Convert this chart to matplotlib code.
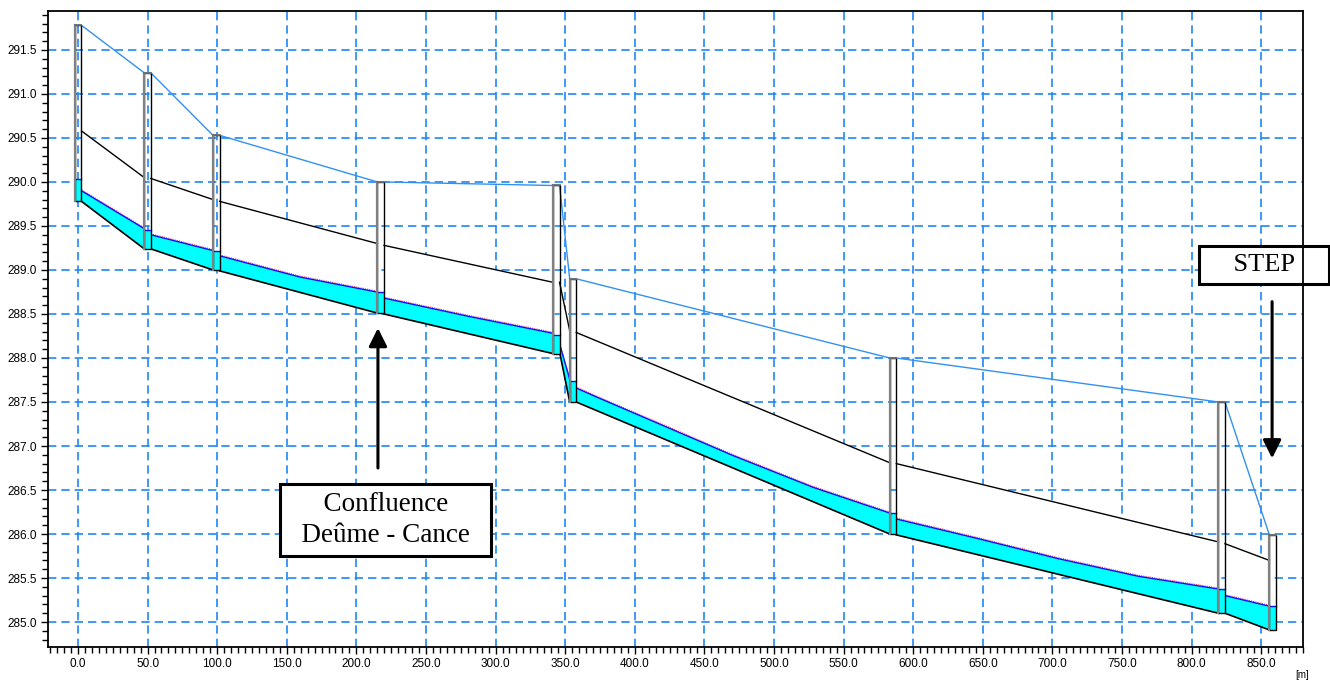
import matplotlib
matplotlib.use("Agg")
import matplotlib.pyplot as plt
import matplotlib.transforms as mtransforms
from matplotlib.patches import Rectangle
from matplotlib.ticker import MultipleLocator, FormatStrFormatter
import numpy as np

# --- manholes (chainage m, ground/top, bottom, water level) ---
mh_x      = [0.2, 50.0, 99.4, 217.5, 343.6, 355.6, 585.5, 821.6, 858.2]
mh_top    = [291.78, 291.24, 290.53, 290.00, 289.96, 288.90, 288.00, 287.50, 285.99]
mh_bottom = [289.78, 289.24, 289.00, 288.51, 288.05, 287.50, 286.00, 285.10, 284.91]
mh_water  = [290.03, 289.46, 289.22, 288.75, 288.26, 287.74, 286.24, 285.37, 285.18]
mh_half_w = 2.35

# --- pipes between manholes (upstream / downstream) ---
invert_up   = [289.78, 289.24, 288.99, 288.50, 288.07, 287.50, 285.99, 285.10]
invert_down = [289.24, 289.00, 288.51, 288.05, 287.50, 286.00, 285.10, 284.91]
crown_up    = [290.58, 290.04, 289.78, 289.28, 288.86, 288.29, 286.80, 285.89]
crown_down  = [290.05, 289.80, 289.30, 288.86, 288.31, 286.81, 285.91, 285.70]

# --- water profile in each pipe ---
water_ch = [
    [2.6, 47.6],
    [52.4, 97.2],
    [102.0, 159.5, 214.6],
    [220.0, 281.6, 341.5],
    [345.8, 353.4],
    [357.8, 375.0, 470.8, 528.2, 582.8],
    [588.1, 646.0, 704.2, 761.7, 819.2],
    [824.0, 855.8],
]
water_lvl = [
    [289.90, 289.47],
    [289.40, 289.22],
    [289.16, 288.92, 288.75],
    [288.68, 288.47, 288.28],
    [288.17, 287.75],
    [287.66, 287.54, 286.89, 286.53, 286.24],
    [286.17, 285.95, 285.72, 285.52, 285.375],
    [285.30, 285.18],
]

x_ticks = np.arange(0, 851, 50)

GRID = "#1E88F5"
GROUND = "#3391f0"
CYAN = "#00FFFF"

fig = plt.figure(figsize=(13.3, 6.82), dpi=100)
ax = fig.add_axes([0.0361, 0.0513, 0.9436, 0.9326])
ax.set_xlim(-21.5, 880)
ax.set_ylim(284.716, 291.943)

# grid below everything
ax.set_axisbelow(True)
ax.grid(True, which="major", color=GRID, linestyle=(0, (5, 3)), linewidth=1.2, zorder=0)

# --- ground line through manhole tops ---
gx, gy = [], []
for x, t in zip(mh_x, mh_top):
    gx += [x - mh_half_w, x + mh_half_w]
    gy += [t, t]
ax.plot(gx, gy, color=GROUND, lw=1.0, zorder=3)

# --- pipes ---
red_off = mtransforms.offset_copy(ax.transData, fig=fig, x=0, y=1.0, units="dots")
for i in range(len(invert_up)):
    x0 = mh_x[i] + mh_half_w
    x1 = mh_x[i + 1] - mh_half_w
    # pipe interior hides the grid
    ax.fill([x0, x1, x1, x0], [invert_up[i], invert_down[i], crown_down[i], crown_up[i]],
            color="white", lw=0, zorder=1)
    # water body
    wx = water_ch[i]
    wy = water_lvl[i]
    ax.fill(list(wx) + [x1, x0], list(wy) + [invert_down[i], invert_up[i]],
            color=CYAN, lw=0, zorder=2)
    ax.plot(wx, wy, color="#ff4060", lw=0.8, ls=(0, (1, 1)), transform=red_off, zorder=3)
    ax.plot(wx, wy, color="#1010ff", lw=1.0, zorder=3)
    ax.plot([x0, x1], [invert_up[i], invert_down[i]], color="black", lw=1.2, zorder=4)
    ax.plot([x0, x1], [crown_up[i], crown_down[i]], color="black", lw=1.0, zorder=4)

# --- manholes ---
for x, t, b, w in zip(mh_x, mh_top, mh_bottom, mh_water):
    ax.add_patch(Rectangle((x - mh_half_w, b), 2 * mh_half_w, w - b,
                           facecolor=CYAN, edgecolor="none", zorder=5))
    ax.plot([x - mh_half_w, x + mh_half_w], [w, w], color="#1010ff", lw=1.0, zorder=6)
    ax.add_patch(Rectangle((x - mh_half_w, b), 2 * mh_half_w, t - b,
                           facecolor="none", edgecolor="black", lw=1.0, zorder=7))
    ax.plot([x - mh_half_w, x - mh_half_w], [b, t], color="#808080", lw=1.6, zorder=7)
    ax.plot([x - mh_half_w, x + mh_half_w], [t, t], color="#707070", lw=1.3, zorder=7)

# --- annotations ---
arrow_kw = dict(arrowstyle="-|>,head_width=0.55,head_length=1.1", lw=2.2,
                color="black", mutation_scale=10, shrinkA=0, shrinkB=0)
ax.annotate("", xy=(215.5, 288.34), xytext=(215.5, 286.75), arrowprops=arrow_kw, zorder=8)
ax.annotate("", xy=(857.8, 286.86), xytext=(857.8, 288.64), arrowprops=arrow_kw, zorder=8)

ax.text(221.1, 286.16, "  Confluence  \n  Deûme - Cance  ", ha="center", va="center",
        fontsize=19.5, family="Liberation Serif", linespacing=1.32,
        bbox=dict(boxstyle="square,pad=0.28", facecolor="white", edgecolor="black", lw=2.2),
        zorder=9)
ax.text(852.1, 289.06, "    STEP    ", ha="center", va="center", fontsize=19,
        family="Liberation Serif",
        bbox=dict(boxstyle="square,pad=0.3", facecolor="white", edgecolor="black", lw=2.2),
        zorder=9, clip_on=False)

# --- axes styling ---
ax.xaxis.set_major_locator(MultipleLocator(50))
ax.xaxis.set_minor_locator(MultipleLocator(5))
ax.yaxis.set_major_locator(MultipleLocator(0.5))
ax.yaxis.set_minor_locator(MultipleLocator(0.1))
ax.xaxis.set_major_formatter(FormatStrFormatter("%.1f"))
ax.yaxis.set_major_formatter(FormatStrFormatter("%.1f"))
ax.set_xticks(x_ticks)
ax.tick_params(which="both", direction="out", color="black", width=1.0,
               labelsize=8.5, top=False, right=False)
ax.tick_params(which="major", length=5, pad=3)
ax.tick_params(which="minor", length=4)
for lab in ax.get_xticklabels() + ax.get_yticklabels():
    lab.set_family("Liberation Sans")
for side in ("left", "bottom", "right", "top"):
    ax.spines[side].set_linewidth(1.3)
    ax.spines[side].set_color("black")
    ax.spines[side].set_zorder(10)

fig.text(0.979, 0.003, "[m]", fontsize=7, family="Liberation Sans", ha="center", va="bottom")

fig.savefig("out.png", dpi=100)
